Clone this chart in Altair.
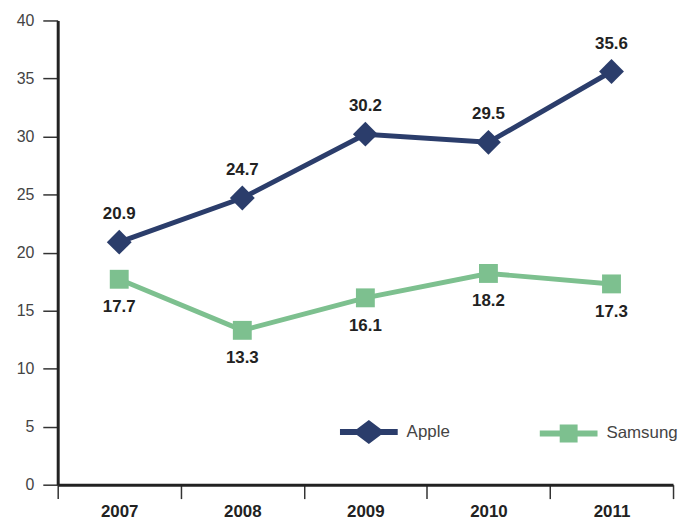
import altair as alt
import pandas as pd

years = ["2007", "2008", "2009", "2010", "2011"]
apple = [20.9, 24.7, 30.2, 29.5, 35.6]
samsung = [17.7, 13.3, 16.1, 18.2, 17.3]
series = ["Apple", "Samsung"]
colors = ["#2B3D6B", "#7DC08F"]

rows = []
for y, a, s in zip(years, apple, samsung):
    rows.append({"year": y, "brand": "Apple", "value": a})
    rows.append({"year": y, "brand": "Samsung", "value": s})
df = pd.DataFrame(rows)

FONT = "Liberation Sans"

apple_sym = "M-2.42,-0.25H-1L0,-1L1,-0.25H2.42V0.25H1L0,1L-1,0.25H-2.42Z"
sams_sym = "M-2.42,-0.25H-0.75V-0.75H0.75V-0.25H2.42V0.25H0.75V0.75H-0.75V0.25H-2.42Z"

x = alt.X("year:N", sort=years, title=None,
          scale=alt.Scale(paddingInner=0, paddingOuter=0),
          axis=alt.Axis(tickBand="extent", labelAngle=0, labelFont=FONT, labelFontSize=17,
                        labelFontWeight="bold", labelColor="#222", labelPadding=5,
                        tickSize=14, tickWidth=1.5, tickColor="#333",
                        domainColor="#222", domainWidth=3, grid=False))
y = alt.Y("value:Q", title=None,
          scale=alt.Scale(domain=[0, 40], nice=False, zero=True),
          axis=alt.Axis(values=[0, 5, 10, 15, 20, 25, 30, 35, 40], tickSize=15, tickWidth=1.5,
                        tickColor="#333", labelFont=FONT, labelFontSize=16, labelColor="#444",
                        labelPadding=9, domainColor="#222", domainWidth=3, grid=False))

color_scale = alt.Scale(domain=series, range=colors)

leg = alt.Legend(
    title=None, orient="none", legendX=301, legendY=402, direction="horizontal",
    symbolSize=576, labelOffset=26, columnPadding=89, padding=0,
    symbolStrokeWidth=0, symbolOpacity=1, symbolFillColor="#2B3D6B",
    labelFont=FONT, labelFontSize=17, labelColor="#444")

base = alt.Chart(df)

color = alt.Color("brand:N", scale=color_scale, legend=leg)

lines = base.mark_line(strokeWidth=5).encode(x=x, y=y, color=color)

pts_a = base.transform_filter("datum.brand == 'Apple'").mark_point(
    shape="diamond", size=625, filled=True, opacity=1).encode(x=x, y=y, color=color)
pts_s = base.transform_filter("datum.brand == 'Samsung'").mark_point(
    shape="square", size=361, filled=True, opacity=1).encode(x=x, y=y, color=color)

legend_layer = base.mark_point(filled=True, opacity=0).encode(
    x=x, y=y, color=color,
    shape=alt.Shape("brand:N", scale=alt.Scale(domain=series, range=[apple_sym, sams_sym]), legend=leg))

lab_a = base.transform_filter("datum.brand == 'Apple'").mark_text(
    dy=-28, font=FONT, fontSize=17, fontWeight="bold", color="#222").encode(
    x=x, y=y, text=alt.Text("value:Q", format=".1f"))
lab_s = base.transform_filter("datum.brand == 'Samsung'").mark_text(
    dy=28, font=FONT, fontSize=17, fontWeight="bold", color="#222").encode(
    x=x, y=y, text=alt.Text("value:Q", format=".1f"))

chart = alt.layer(legend_layer, lines, pts_a, pts_s, lab_a, lab_s).properties(
    width=619, height=467,
    autosize=alt.AutoSizeParams(type="none"),
    padding={"left": 50, "top": 11, "right": 5, "bottom": 37},
).configure_view(stroke=None)

chart.save("out.html", embed_options={"renderer": "svg", "actions": False})
